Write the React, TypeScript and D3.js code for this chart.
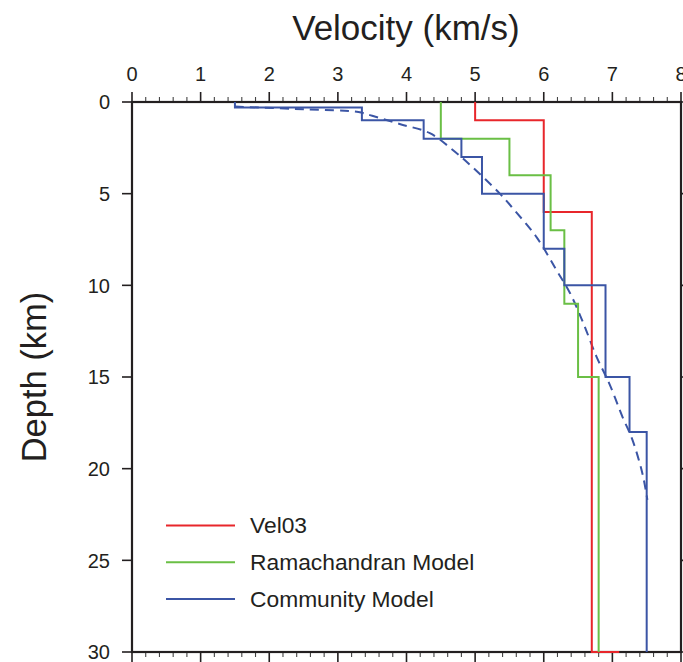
import React from "react";
import * as d3 from "d3";

const xTicks = [0, 1, 2, 3, 4, 5, 6, 7, 8];
const yTicks = [0, 5, 10, 15, 20, 25, 30];

const vel03Depth = [0, 1, 6, 30];
const vel03Vel = [5, 6, 6.7, 7.1];

const ramaDepth = [0, 2, 4, 7, 11, 15, 30];
const ramaVel = [4.5, 5.5, 6.1, 6.3, 6.5, 6.8, 6.8];

const commDepth = [0, 0.3, 1, 2, 3, 5, 8, 10, 15, 18, 30];
const commVel = [1.5, 3.35, 4.25, 4.8, 5.1, 6.0, 6.3, 6.9, 7.25, 7.5, 7.5];

const gradVel = [1.5, 2.5, 3.3, 3.5, 3.9, 4.34, 4.67, 4.96, 5.36, 5.55, 5.9, 6.19, 6.38, 6.57, 6.77, 6.96, 7.15, 7.29, 7.44, 7.51];
const gradDepth = [0.25, 0.4, 0.55, 0.75, 1.2, 1.7, 2.6, 3.55, 5.0, 5.8, 7.4, 9.2, 10.4, 12.0, 13.9, 15.4, 17.2, 18.4, 20.3, 21.7];

const legendNames = ["Vel03", "Ramachandran Model", "Community Model"];
const colors = ["#e8262b", "#6abf45", "#3b55a5"];

const FONT = "'Liberation Sans', Arial, Helvetica, sans-serif";

export default function App() {
  const W = 683, H = 662;
  const left = 132, right = 681, top = 102, bottom = 652;
  const x = d3.scaleLinear().domain([0, 8]).range([left, right]);
  const y = d3.scaleLinear().domain([0, 30]).range([top, bottom]);

  const stepLine = d3.line<[number, number]>()
    .x(d => x(d[0]))
    .y(d => y(d[1]))
    .curve(d3.curveStepBefore);

  const smooth = d3.line<[number, number]>()
    .x(d => x(d[0]))
    .y(d => y(d[1]))
    .curve(d3.curveCatmullRom);

  const zip = (v: number[], dd: number[]) => v.map((vv, i) => [vv, dd[i]] as [number, number]);

  const minor = d3.range(0, 8.0001, 0.2).filter(v => Math.abs(v - Math.round(v)) > 1e-6);

  const series = [
    zip(vel03Vel, vel03Depth),
    zip(ramaVel, ramaDepth),
    zip(commVel, commDepth),
  ];

  return (
    <svg width={W} height={H} style={{ position: "absolute", left: 0, top: 0 }} fontFamily={FONT}>
      <rect x={0} y={0} width={W} height={H} fill="#fff" />
      <text x={406} y={40} textAnchor="middle" fontSize={35} fill="#231f20">Velocity (km/s)</text>
      <text transform={`translate(46,${377}) rotate(-90)`} textAnchor="middle" fontSize={34.5} fill="#231f20">Depth (km)</text>

      {xTicks.map(t => (
        <g key={"xt" + t}>
          <line x1={x(t)} x2={x(t)} y1={top} y2={top - 10} stroke="#231f20" strokeWidth={1.6} />
          <line x1={x(t)} x2={x(t)} y1={bottom} y2={bottom + 10} stroke="#231f20" strokeWidth={1.6} />
          <text x={x(t)} y={81} textAnchor="middle" fontSize={20} fill="#231f20">{t}</text>
        </g>
      ))}
      {minor.map(t => (
        <g key={"xm" + t}>
          <line x1={x(t)} x2={x(t)} y1={top} y2={top - 5} stroke="#444" strokeWidth={1.1} />
          <line x1={x(t)} x2={x(t)} y1={bottom} y2={bottom + 5} stroke="#444" strokeWidth={1.1} />
        </g>
      ))}
      {yTicks.map(t => (
        <g key={"yt" + t}>
          <line x1={left} x2={left - 10} y1={y(t)} y2={y(t)} stroke="#231f20" strokeWidth={1.6} />
          <line x1={right} x2={right + 3} y1={y(t)} y2={y(t)} stroke="#231f20" strokeWidth={1.6} />
          <text x={110} y={y(t)} dy="0.36em" textAnchor="end" fontSize={20} fill="#231f20">{t}</text>
        </g>
      ))}

      <rect x={left} y={top} width={right - left} height={bottom - top} fill="none" stroke="#231f20" strokeWidth={2.2} />

      <path d={smooth(zip(gradVel, gradDepth)) || ""} fill="none" stroke={colors[2]} strokeWidth={2} strokeDasharray="9,6" />
      {series.map((s, i) => (
        <path key={"s" + i} d={stepLine(s) || ""} fill="none" stroke={colors[i]} strokeWidth={2} />
      ))}

      {legendNames.map((n, i) => (
        <g key={"lg" + n}>
          <line x1={166} x2={235} y1={525.5 + i * 36.7} y2={525.5 + i * 36.7} stroke={colors[i]} strokeWidth={2} />
          <text x={250} y={525.5 + i * 36.7} dy="0.35em" fontSize={22.8} fill="#231f20">{n}</text>
        </g>
      ))}
    </svg>
  );
}
